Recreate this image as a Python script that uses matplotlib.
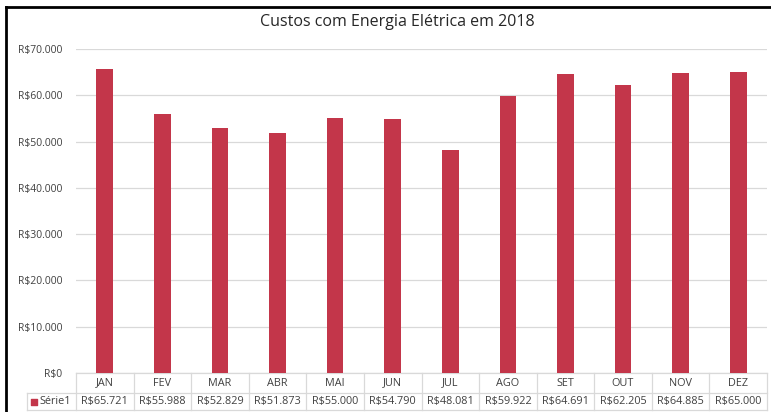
import numpy as np
import matplotlib
matplotlib.use("Agg")
import matplotlib.pyplot as plt
import matplotlib.transforms as mtransforms
from matplotlib.lines import Line2D

plt.rcParams['font.family'] = ['Open Sans', 'DejaVu Sans']

meses = ["JAN", "FEV", "MAR", "ABR", "MAI", "JUN", "JUL", "AGO", "SET", "OUT", "NOV", "DEZ"]
custos = [65721, 55988, 52829, 51873, 55000, 54790, 48081, 59922, 64691, 62205, 64885, 65000]
serie = "Série1"
titulo = "Custos com Energia Elétrica em 2018"

cor = "#c3364a"
cinza = "#d9d9d9"
texto = "#404040"

def moeda(v):
    return "R$" + f"{v:,.0f}".replace(",", ".")

fig = plt.figure(figsize=(7.71, 4.12), dpi=100)
W, H = 771, 412
ax = fig.add_axes([76 / W, 1 - 373 / H, (767 - 76) / W, (373 - 49) / H])

x = np.arange(len(meses))
ax.bar(x, custos, width=0.29, color=cor, zorder=3)
ax.set_xlim(-0.5, len(meses) - 0.5)
ax.set_ylim(0, 70000)
ax.set_yticks(np.arange(0, 70001, 10000))
ax.set_yticklabels([moeda(v) for v in ax.get_yticks()], fontsize=7.5, color=texto)
ax.set_xticks([])
ax.tick_params(axis="y", length=0, pad=10)
ax.grid(axis="y", color=cinza, linewidth=0.9, zorder=0)
for s in ax.spines.values():
    s.set_visible(False)

# tabela de dados embaixo do eixo
axh = 324.0
trans = mtransforms.blended_transform_factory(ax.transData, ax.transAxes)
y0, y1, y2 = 0.0, -20 / axh, -37 / axh
left = -0.5 - 49 / 57.6
right = len(meses) - 0.5
kw = dict(color=cinza, linewidth=0.9, transform=trans, clip_on=False)
ax.plot([-0.5, right], [y0, y0], **kw)
ax.plot([left, right], [y1, y1], **kw)
ax.plot([left, right], [y2, y2], **kw)
ax.plot([left, left], [y1, y2], **kw)
for i in range(len(meses) + 1):
    ax.plot([i - 0.5, i - 0.5], [y0, y2], **kw)
for i, (m, v) in enumerate(zip(meses, custos)):
    ax.text(i, (y0 + y1) / 2, m, transform=trans, ha="center", va="center",
            fontsize=7.8, color=texto)
    ax.text(i, (y1 + y2) / 2, moeda(v), transform=trans, ha="center", va="center",
            fontsize=7.8, color=texto)
ax.scatter([left + 0.12], [(y1 + y2) / 2], marker="s", s=22, color=cor,
           transform=trans, clip_on=False)
ax.text(left + 0.22, (y1 + y2) / 2, serie, transform=trans, ha="left", va="center",
        fontsize=7.8, color=texto)

fig.text(0.515, 1 - 22 / H, titulo, ha="center", va="center", fontsize=11.5, color="#262626")

# moldura preta (topo e esquerda)
fig.add_artist(Line2D([6 / W, 1], [1 - 7 / H, 1 - 7 / H], color="black", linewidth=2))
fig.add_artist(Line2D([6 / W, 6 / W], [0, 1 - 7 / H], color="black", linewidth=2))

fig.savefig("out.png", dpi=100)
